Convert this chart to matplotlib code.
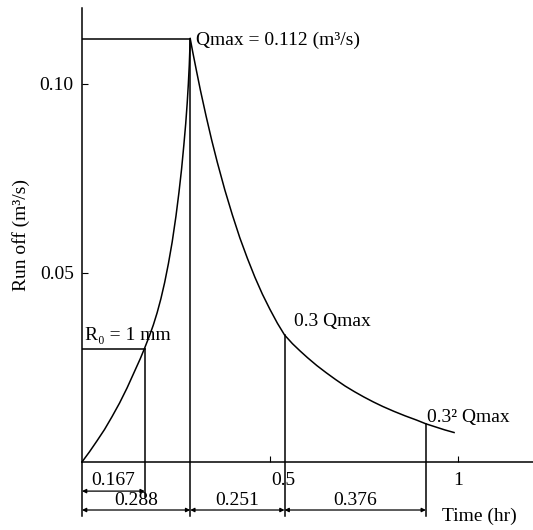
import numpy as np
import matplotlib
matplotlib.use("Agg")
import matplotlib.pyplot as plt

plt.rcParams['font.family'] = ['Liberation Serif', 'DejaVu Serif']

# unit hydrograph values (hr, m3/s)
q_max = 0.112
r0_q = 0.030
t_r0 = 0.167
t_peak = 0.288
seg_fall1 = 0.251
seg_fall2 = 0.376

rise_t = [0.0, 0.02, 0.04, 0.06, 0.08, 0.10, 0.12, 0.14, 0.155, 0.167,
          0.18, 0.19, 0.20, 0.21, 0.22, 0.23, 0.24, 0.25, 0.258, 0.265,
          0.271, 0.276, 0.280, 0.283, 0.2855, 0.288]
rise_q = [0.0, 0.0027, 0.0056, 0.0086, 0.0120, 0.0156, 0.0196, 0.0240, 0.0273, 0.0302,
          0.0335, 0.0363, 0.0395, 0.0432, 0.0475, 0.0525, 0.0582, 0.0650, 0.0713, 0.0775,
          0.0838, 0.0895, 0.0950, 0.1000, 0.1050, 0.112]

fall_t = [0.288, 0.295, 0.305, 0.315, 0.33, 0.345, 0.36, 0.38, 0.40, 0.42,
          0.44, 0.46, 0.48, 0.50, 0.52, 0.539, 0.56, 0.58, 0.60, 0.625,
          0.65, 0.675, 0.70, 0.725, 0.75, 0.775, 0.80, 0.83, 0.86, 0.89,
          0.915, 0.94, 0.965, 0.99]
fall_q = [0.112, 0.1083, 0.1033, 0.0984, 0.0916, 0.0852, 0.0793, 0.0720, 0.0654, 0.0593,
          0.0539, 0.0489, 0.0444, 0.0404, 0.0367, 0.0336, 0.0313, 0.0294, 0.0276, 0.0255,
          0.0236, 0.0218, 0.0201, 0.0186, 0.0172, 0.0159, 0.0147, 0.0134, 0.0122, 0.0111,
          0.0101, 0.0093, 0.0085, 0.0078]

xticks = [0.5, 1.0]
xtick_labels = ['0.5', '1']
yticks = [0.05, 0.10]
ytick_labels = ['0.05', '0.10']

t_q1 = t_peak + seg_fall1
t_q2 = t_q1 + seg_fall2
q1 = 0.3 * q_max
q2 = 0.09 * q_max

fs = 14
fig = plt.figure(figsize=(5.33, 5.30), dpi=100)
ax = fig.add_axes([0.1538, 0.1283, 0.8462, 0.8566])
ax.set_xlim(0, 1.2)
ax.set_ylim(0, 0.1201)

for s in ['top', 'right']:
    ax.spines[s].set_visible(False)
for s in ['left', 'bottom']:
    ax.spines[s].set_linewidth(1.1)

ax.set_xticks(xticks)
ax.set_xticklabels([])
ax.set_yticks(yticks)
ax.set_yticklabels(ytick_labels, fontsize=fs)
ax.tick_params(axis='both', direction='in', length=4, width=0.8)
ax.tick_params(axis='y', pad=6)
ax.set_ylabel('Run off (m³/s)', fontsize=fs, labelpad=7)

# x tick labels sit a little to the right of their ticks
ax.text(xticks[0] + 0.037, -0.0048, xtick_labels[0], fontsize=fs,
        ha='center', va='center', clip_on=False)
ax.text(xticks[1], -0.0048, xtick_labels[1], fontsize=fs,
        ha='center', va='center', clip_on=False)

lw = 1.1
ax.plot(rise_t, rise_q, color='black', lw=lw)
ax.plot(fall_t, fall_q, color='black', lw=lw)

# guide lines to the axes
ax.plot([0, t_peak], [q_max, q_max], color='black', lw=lw)
ax.plot([0, t_r0], [r0_q, r0_q], color='black', lw=lw)

y_low = -0.0143
ax.plot([0, 0], [0, y_low], color='black', lw=lw, clip_on=False)
ax.plot([t_r0, t_r0], [r0_q, -0.0093], color='black', lw=lw, clip_on=False)
ax.plot([t_peak, t_peak], [q_max, y_low], color='black', lw=lw, clip_on=False)
ax.plot([t_q1, t_q1], [q1, y_low], color='black', lw=lw, clip_on=False)
ax.plot([t_q2, t_q2], [q2, y_low], color='black', lw=lw, clip_on=False)

# dimension arrows below the time axis
def dim(x0, x1, y, label, ty):
    ax.annotate('', xy=(x0, y), xytext=(x1, y), annotation_clip=False,
                arrowprops=dict(arrowstyle='<|-|>', color='black', lw=0.9,
                                mutation_scale=6, shrinkA=0, shrinkB=0))
    ax.text((x0 + x1) / 2, ty, label, ha='center', va='center', fontsize=fs,
            clip_on=False)

dim(0, t_r0, -0.0077, '%.3f' % t_r0, -0.0048)
dim(0, t_peak, -0.0127, '%.3f' % t_peak, -0.0103)
dim(t_peak, t_q1, -0.0127, '%.3f' % seg_fall1, -0.0103)
dim(t_q1, t_q2, -0.0127, '%.3f' % seg_fall2, -0.0103)

ax.text(t_peak + 0.016, q_max - 0.0004, 'Qmax = %.3f (m³/s)' % q_max, fontsize=fs,
        ha='left', va='center')
ax.text(0.008, r0_q + 0.0035, 'R₀ = 1 mm', fontsize=fs, ha='left', va='center')
ax.text(t_q1 + 0.025, q1 + 0.0037, '0.3 Qmax', fontsize=fs, ha='left', va='center')
ax.text(t_q2 + 0.003, q2 + 0.0018, '0.3² Qmax', fontsize=fs, ha='left',
        va='center', clip_on=False)
ax.text(0.958, -0.0145, 'Time (hr)', fontsize=fs, ha='left', va='center',
        clip_on=False)

fig.savefig('out.png', dpi=100)
